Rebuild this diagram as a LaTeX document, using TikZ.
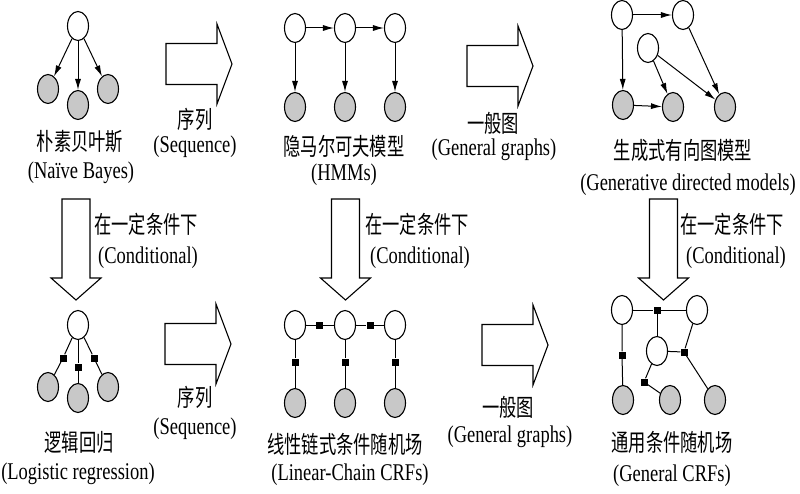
\documentclass[tikz,border=0pt]{standalone}
\usepackage{fontspec}
\setmainfont{Liberation Serif}[FakeStretch=0.77]
\newfontfamily\zhfont{Noto Sans CJK SC}[FakeStretch=0.72]
\usetikzlibrary{shapes.geometric,arrows.meta}
\definecolor{obsgray}{RGB}{200,200,200}
\tikzset{
  hid/.style={ellipse, draw, line width=1.1pt, fill=white, minimum width=21pt, minimum height=29pt, inner sep=0pt},
  obs/.style={hid, fill=obsgray},
  fac/.style={rectangle, fill=black, minimum size=7pt, inner sep=0pt},
  dir/.style={-{Latex[length=11pt,width=6pt]}, line width=1pt},
  und/.style={line width=1pt},
  blk/.style={draw, line width=1.1pt, fill=white},
  zh/.style={font=\zhfont\fontsize{24}{26}\selectfont, inner sep=0pt},
  en/.style={font=\fontsize{24}{26}\selectfont, inner sep=0pt},
  rblk/.pic={\draw[blk] (0,-20.5) -- (51,-20.5) -- (51,-40) -- (66,0) -- (51,40) -- (51,20.5) -- (0,20.5) -- cycle;},
  dblk/.pic={\draw[blk] (-14,0) -- (14,0) -- (14,79) -- (25,79) -- (0,101) -- (-25,79) -- (-14,79) -- cycle;}
}
\begin{document}
\begin{tikzpicture}[x=1pt,y=-1pt]
\useasboundingbox (0,0) rectangle (800,494);
\fill[white] (0,0) rectangle (800,494);

% ---------- block arrows ----------
\pic at (166,64) {rblk};
\pic at (467,66) {rblk};
\pic at (165,344) {rblk};
\pic at (482,345) {rblk};
\pic at (76,199) {dblk};
\pic at (345.5,199) {dblk};
\pic at (663.5,199) {dblk};

% ---------- Naive Bayes ----------
\node[hid] (nb0) at (78,26) {};
\node[obs] (nb1) at (48,89) {};
\node[obs] (nb2) at (78,105) {};
\node[obs] (nb3) at (108,89) {};
\draw[dir] (nb0) -- (nb1);
\draw[dir] (nb0) -- (nb2);
\draw[dir] (nb0) -- (nb3);
\node[zh] (t1) at (80,142) {朴素贝叶斯};
\node[en] (t2) at (81,173) {(Naïve Bayes)};

% ---------- HMM ----------
\node[hid] (h1) at (295,28) {};
\node[hid] (h2) at (345,28) {};
\node[hid] (h3) at (395,28) {};
\node[obs] (o1) at (295,107) {};
\node[obs] (o2) at (345,107) {};
\node[obs] (o3) at (395,107) {};
\draw[dir] (h1) -- (h2);
\draw[dir] (h2) -- (h3);
\draw[dir] (h1) -- (o1);
\draw[dir] (h2) -- (o2);
\draw[dir] (h3) -- (o3);
\node[zh] (t3) at (344,146) {隐马尔可夫模型};
\node[en] (t4) at (344,175) {(HMMs)};

% ---------- Generative directed ----------
\node[hid] (ga) at (622,15) {};
\node[hid] (gb) at (683,15) {};
\node[hid] (gc) at (648,48) {};
\node[obs] (gd) at (623,105) {};
\node[obs] (ge) at (673,107) {};
\node[obs] (gf) at (725,107) {};
\draw[dir] (ga) -- (gb);
\draw[dir] (ga) -- (gd);
\draw[dir] (gb) -- (gf);
\draw[dir] (gc) -- (ge);
\draw[dir] (gc) -- (gf);
\draw[dir] (gd) -- (ge);
\node[zh] (t5) at (683,150) {生成式有向图模型};
\node[en] (t6) at (688,185) {(Generative directed models)};

% ---------- Logistic regression ----------
\node[hid] (lr0) at (78,325) {};
\node[obs] (lr1) at (48,387) {};
\node[obs] (lr2) at (78,398) {};
\node[obs] (lr3) at (108,387) {};
\node[fac] (lf1) at (63,358) {};
\node[fac] (lf2) at (78,367) {};
\node[fac] (lf3) at (94,358) {};
\draw[und] (lr0) -- (lf1) -- (lr1);
\draw[und] (lr0) -- (lf2) -- (lr2);
\draw[und] (lr0) -- (lf3) -- (lr3);
\node[zh] (t7) at (79,442) {逻辑回归};
\node[en] (t8) at (78,474) {(Logistic regression)};

% ---------- Linear-chain CRF ----------
\node[hid] (c1) at (295,325) {};
\node[hid] (c2) at (345,325) {};
\node[hid] (c3) at (395,325) {};
\node[obs] (d1) at (295,403) {};
\node[obs] (d2) at (345,403) {};
\node[obs] (d3) at (395,403) {};
\node[fac] (cf1) at (319.5,325) {};
\node[fac] (cf2) at (370,325) {};
\node[fac] (cf3) at (295,362) {};
\node[fac] (cf4) at (345,362) {};
\node[fac] (cf5) at (395,362) {};
\draw[und] (c1) -- (cf1) -- (c2);
\draw[und] (c2) -- (cf2) -- (c3);
\draw[und] (c1) -- (cf3) -- (d1);
\draw[und] (c2) -- (cf4) -- (d2);
\draw[und] (c3) -- (cf5) -- (d3);
\node[zh] (t9) at (345,444) {线性链式条件随机场};
\node[en] (t10) at (350,475) {(Linear-Chain CRFs)};

% ---------- General CRF ----------
\node[hid] (gtl) at (622,310) {};
\node[hid] (gtr) at (697,310) {};
\node[hid] (gm) at (657,351) {};
\node[obs] (gbl) at (623,400) {};
\node[obs] (gbm) at (670,400) {};
\node[obs] (gbr) at (715,400) {};
\node[fac] (gf1) at (657,310) {};
\node[fac] (gf2) at (622,355) {};
\node[fac] (gf3) at (684,352) {};
\node[fac] (gf4) at (644,382) {};
\draw[und] (gtl) -- (gf1) -- (gtr);
\draw[und] (gf1) -- (gm);
\draw[und] (gtl) -- (gf2) -- (gbl);
\draw[und] (gm) -- (gf3) -- (gbr);
\draw[und] (gtr) -- (gf3);
\draw[und] (gm) -- (gf4) -- (gbm);
\node[zh] (t11) at (672,442) {通用条件随机场};
\node[en] (t12) at (672,476) {(General CRFs)};

% ---------- arrow labels ----------
\node[zh] (s1) at (195,119) {序列};
\node[en] (s2) at (195,147) {(Sequence)};
\node[zh] (g1) at (493,123) {一般图};
\node[en] (g2) at (494,150) {(General graphs)};
\node[zh] (s3) at (195,397) {序列};
\node[en] (s4) at (195,429) {(Sequence)};
\node[zh] (g3) at (508,407) {一般图};
\node[en] (g4) at (510,437) {(General graphs)};
\node[zh] (k1) at (146,224) {在一定条件下};
\node[en] (k2) at (148,258) {(Conditional)};
\node[zh] (k3) at (417,224) {在一定条件下};
\node[en] (k4) at (420,258) {(Conditional)};
\node[zh] (k5) at (732,224) {在一定条件下};
\node[en] (k6) at (736,258) {(Conditional)};
\end{tikzpicture}
\end{document}
